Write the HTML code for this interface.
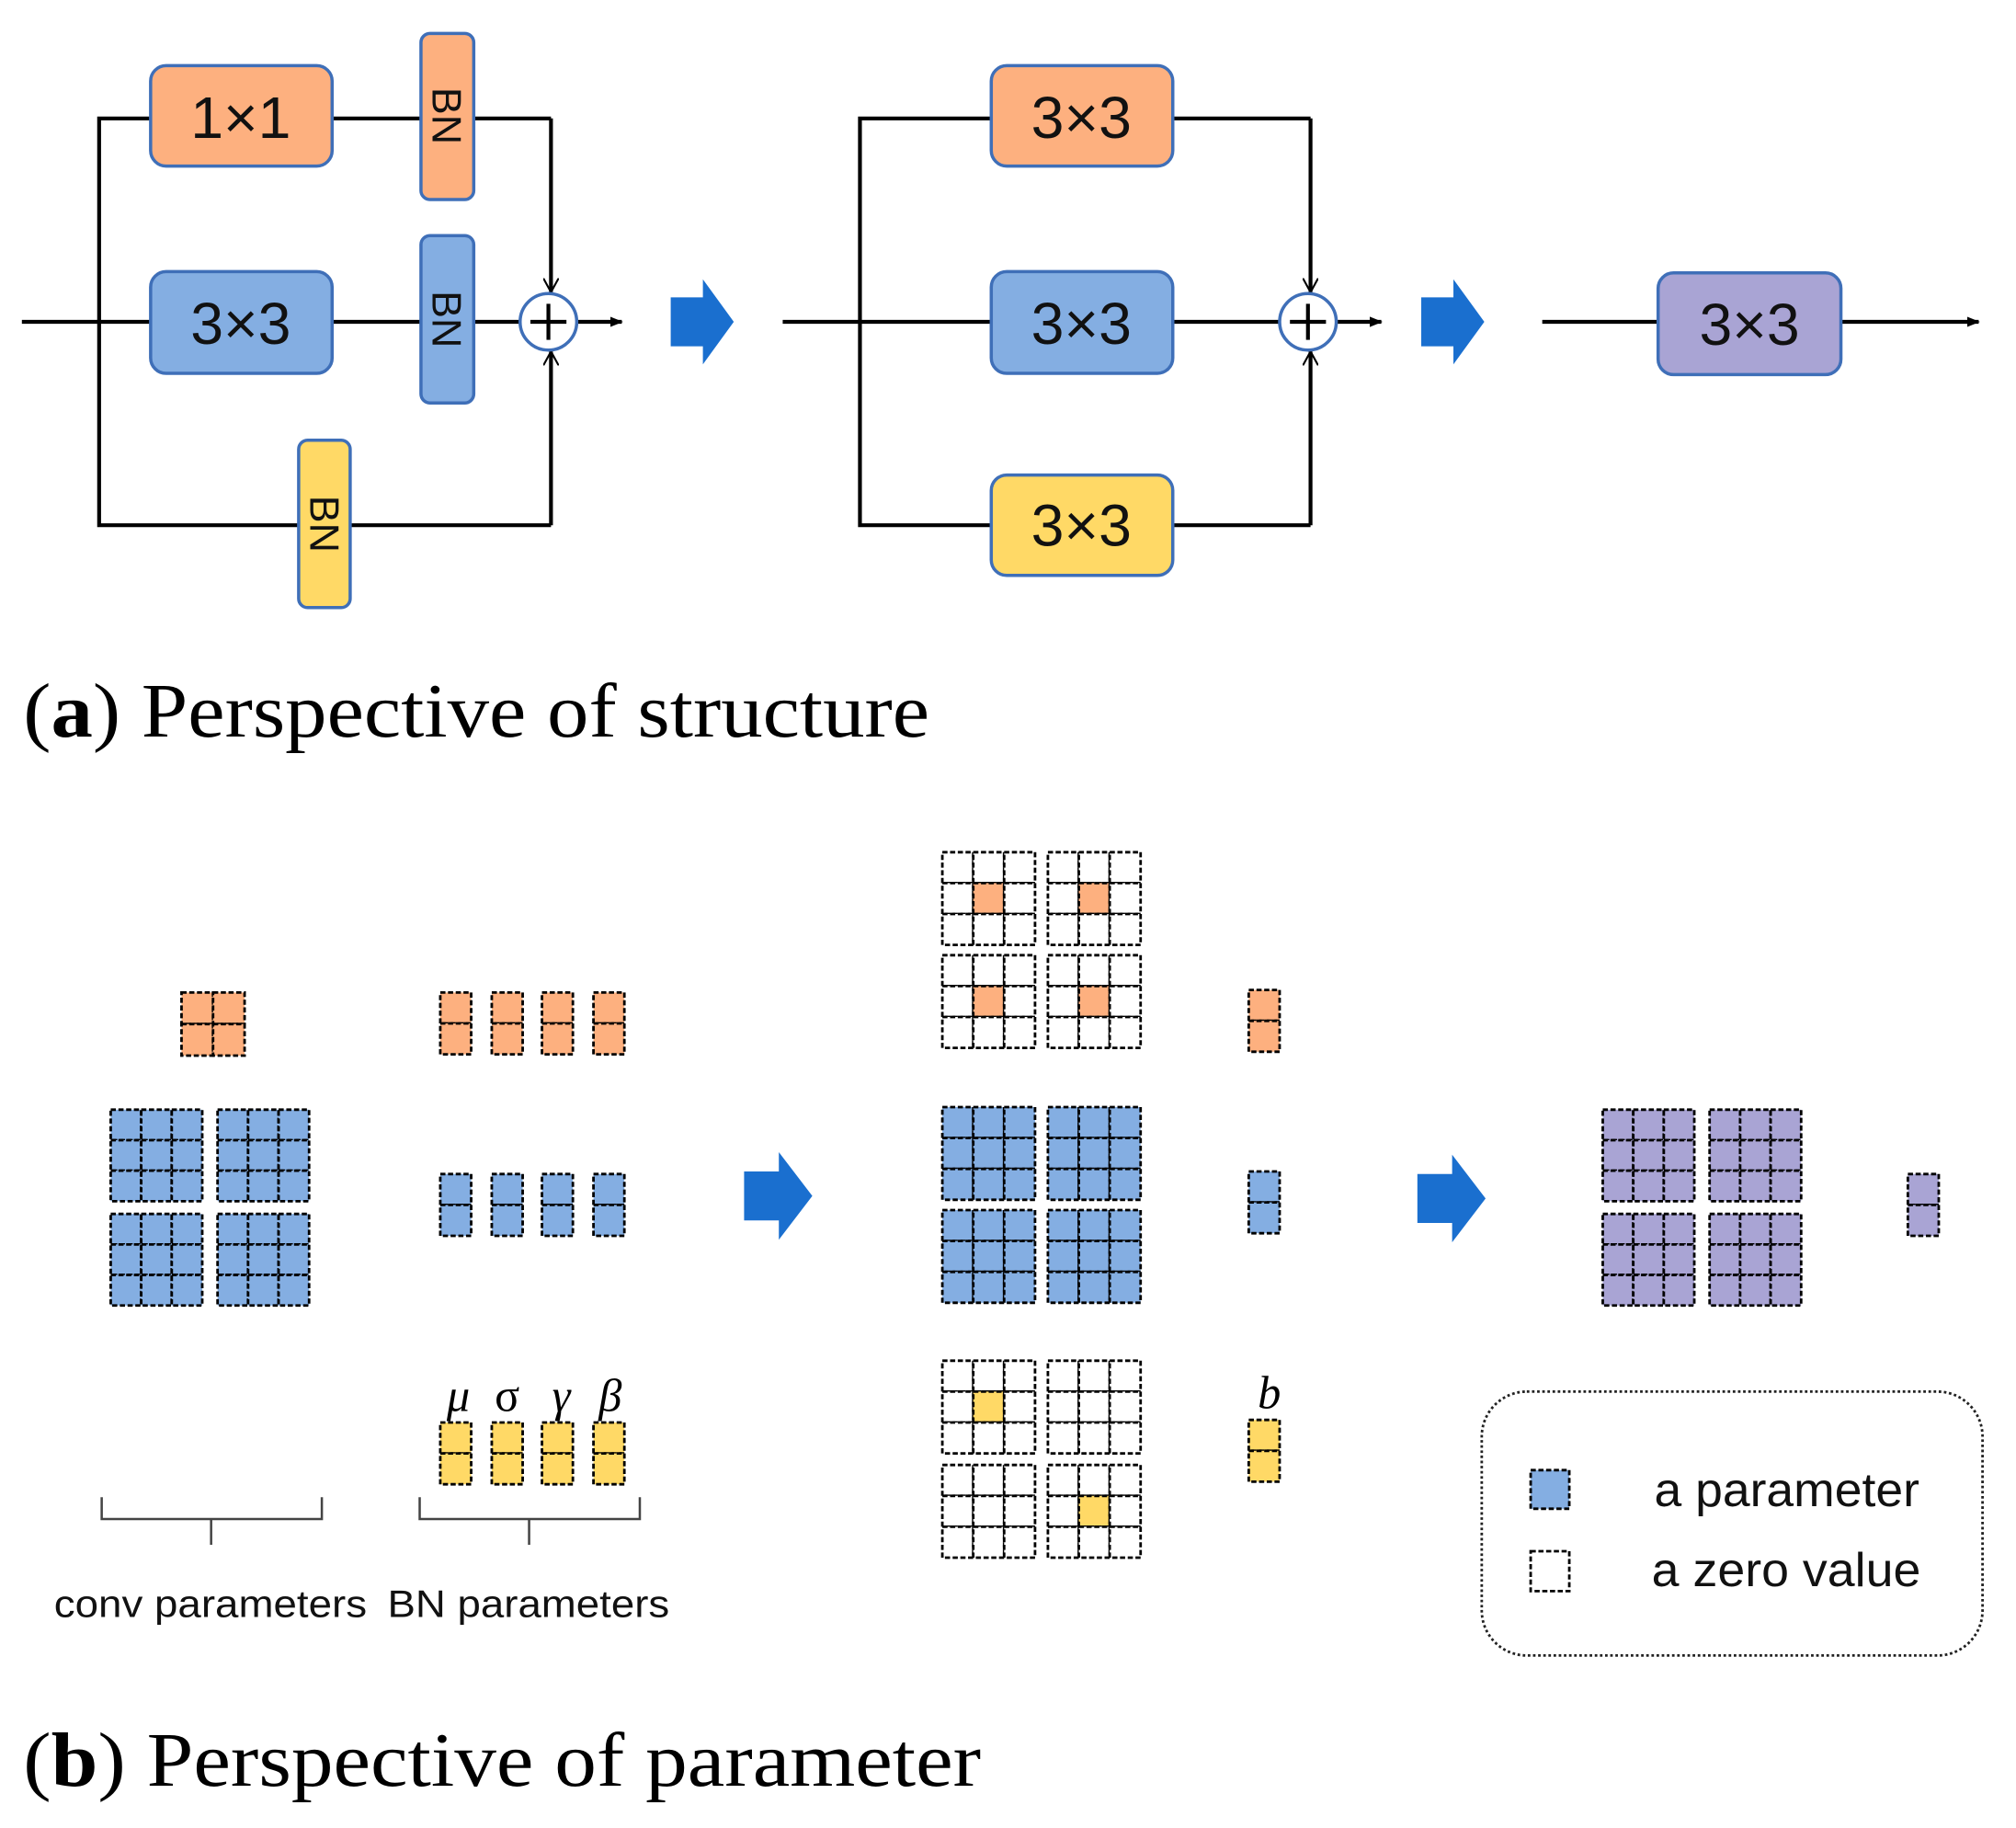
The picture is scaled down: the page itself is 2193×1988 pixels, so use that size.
<!DOCTYPE html>
<html><head><meta charset="utf-8"><style>
html,body{margin:0;padding:0;background:#fff;}
svg{display:block;}
.s{font-family:"Liberation Sans",sans-serif;}
.r{font-family:"Liberation Serif",serif;}
</style></head><body>
<svg id="g" width="2193" height="1988" viewBox="0 0 1566 1420" preserveAspectRatio="none" xmlns="http://www.w3.org/2000/svg">
<defs>
<marker id="ah" markerWidth="10" markerHeight="10" refX="9" refY="5" orient="auto" markerUnits="userSpaceOnUse"><path d="M0,1 L10,5 L0,9 Z" fill="#000"/></marker>
<marker id="av" markerWidth="12" markerHeight="12" refX="11" refY="6" orient="auto" markerUnits="userSpaceOnUse"><path d="M0,0 L11,6 L0,12" fill="none" stroke="#000" stroke-width="1.5"/></marker>
</defs>
<rect width="1566" height="1420" fill="#fff"/>
<g stroke="#000" stroke-width="3" fill="none">
<line x1="17" y1="250" x2="404" y2="250"/>
<polyline points="428,92 77,92 77,408 428,408"/>
<line x1="428" y1="92" x2="428" y2="227" marker-end="url(#av)"/>
<line x1="428" y1="408" x2="428" y2="273" marker-end="url(#av)"/>
<line x1="448" y1="250" x2="483" y2="250" marker-end="url(#ah)"/>
<line x1="608" y1="250" x2="994" y2="250"/>
<polyline points="1018,92 668,92 668,408 1018,408"/>
<line x1="1018" y1="92" x2="1018" y2="227" marker-end="url(#av)"/>
<line x1="1018" y1="408" x2="1018" y2="273" marker-end="url(#av)"/>
<line x1="1038" y1="250" x2="1073" y2="250" marker-end="url(#ah)"/>
<line x1="1198" y1="250" x2="1537" y2="250" marker-end="url(#ah)"/>
</g>
<g stroke="#3f6fb8" stroke-width="2.5">
<rect x="117" y="51" width="141" height="78" rx="12" fill="#FDB07F"/>
<rect x="117" y="211" width="141" height="79" rx="12" fill="#84AEE2"/>
<rect x="327" y="26" width="41" height="129" rx="7" fill="#FDB07F"/>
<rect x="327" y="183" width="41" height="130" rx="7" fill="#84AEE2"/>
<rect x="232" y="342" width="40" height="130" rx="7" fill="#FFD966"/>
<rect x="770" y="51" width="141" height="78" rx="12" fill="#FDB07F"/>
<rect x="770" y="211" width="141" height="79" rx="12" fill="#84AEE2"/>
<rect x="770" y="369" width="141" height="78" rx="12" fill="#FFD966"/>
<rect x="1288" y="212" width="142" height="79" rx="12" fill="#A9A4D4"/>
</g>
<g class="s" font-size="46" text-anchor="middle" fill="#111">
<text x="187" y="107">1×1</text>
<text x="187" y="267">3×3</text>
<text x="840" y="107">3×3</text>
<text x="840" y="267">3×3</text>
<text x="840" y="424">3×3</text>
<text x="1359" y="268">3×3</text>
</g>
<g class="s" font-size="32" text-anchor="middle" fill="#111">
<text transform="translate(336,90) rotate(90)">BN</text>
<text transform="translate(336,248) rotate(90)">BN</text>
<text transform="translate(241,407) rotate(90)">BN</text>
</g>
<g stroke-width="2.5" fill="#fff">
<circle cx="426" cy="250" r="22" stroke="#3f6fb8"/>
<circle cx="1016" cy="250" r="22" stroke="#3f6fb8"/>
</g>
<g stroke="#000" stroke-width="3">
<line x1="412" y1="250" x2="440" y2="250"/><line x1="426" y1="236" x2="426" y2="264"/>
<line x1="1002" y1="250" x2="1030" y2="250"/><line x1="1016" y1="236" x2="1016" y2="264"/>
</g>
<g fill="#1a6fcf">
<path d="M521,231 L546,231 L546,217 L570,250 L546,283 L546,269 L521,269 Z"/>
<path d="M1104,231 L1129,231 L1129,217 L1153,250 L1129,283 L1129,269 L1104,269 Z"/>
<path d="M578,910 L605,910 L605,895 L631,929 L605,963 L605,948 L578,948 Z"/>
<path d="M1101,912 L1128,912 L1128,897 L1154,931 L1128,965 L1128,950 L1101,950 Z"/>
</g>
<text class="r" x="18" y="572" font-size="60" fill="#000" textLength="704" lengthAdjust="spacingAndGlyphs">(<tspan font-weight="bold">a</tspan>) Perspective of structure</text>
<text class="r" x="18" y="1387" font-size="60" fill="#000" textLength="744" lengthAdjust="spacingAndGlyphs">(<tspan font-weight="bold">b</tspan>) Perspective of parameter</text>
<g class="r" font-size="36" font-style="italic" text-anchor="middle" fill="#000">
<text x="356" y="1096">μ</text><text x="394" y="1096" font-style="normal">σ</text><text x="436" y="1096">γ</text><text x="474" y="1096">β</text>
<text x="986" y="1094">b</text>
</g>
<g stroke="#444" stroke-width="1.8" fill="none">
<path d="M79,1163 L79,1180 L250,1180 L250,1163 M164,1180 L164,1200"/>
<path d="M326,1163 L326,1180 L497,1180 L497,1163 M411,1180 L411,1200"/>
</g>
<g class="s" font-size="30" fill="#111">
<text x="42" y="1256" textLength="243" lengthAdjust="spacingAndGlyphs">conv parameters</text>
<text x="301" y="1256" textLength="219" lengthAdjust="spacingAndGlyphs">BN parameters</text>
</g>
<rect x="1151" y="1081" width="389" height="205" rx="35" fill="none" stroke="#222" stroke-width="2" stroke-dasharray="2,2"/>
<g class="s" font-size="37" fill="#111">
<text x="1285" y="1170" textLength="206" lengthAdjust="spacingAndGlyphs">a parameter</text>
<text x="1283" y="1232" textLength="209" lengthAdjust="spacingAndGlyphs">a zero value</text>
</g>
<g id="cells"></g>
</svg>
<script>
var G=document.getElementById('cells'),NS='http://www.w3.org/2000/svg';
function c(x,y,w,h,f){var r=document.createElementNS(NS,'rect');r.setAttribute('x',x);r.setAttribute('y',y);r.setAttribute('width',w);r.setAttribute('height',h);r.setAttribute('fill',f||'#fff');r.setAttribute('stroke','#000');r.setAttribute('stroke-width','2');r.setAttribute('stroke-dasharray','4,2');G.appendChild(r);}
function grid(x,y,n,m,s,f,cf){for(var i=0;i<n;i++)for(var j=0;j<m;j++){var fill=f;if(cf&&i==1&&j==1)fill=cf;c(x+j*s,y+i*s,s,s,fill);}}
var O='#FDB07F',B='#84AEE2',Y='#FFD966',P='#A9A4D4',W='#fff';
grid(141,771,2,2,24.5,O);
[[86,862],[169,862],[86,943],[169,943]].forEach(function(p){grid(p[0],p[1],3,3,23.7,B);});
[342,382,421,461].forEach(function(x){grid(x,771,2,1,24,O);grid(x,912,2,1,24,B);grid(x,1105,2,1,24,Y);});
[[732,662],[814,662],[732,742],[814,742]].forEach(function(p){grid(p[0],p[1],3,3,24,W,O);});
[[732,860],[814,860],[732,940],[814,940]].forEach(function(p){grid(p[0],p[1],3,3,24,B);});
grid(732,1057,3,3,24,W,Y);grid(814,1057,3,3,24,W);grid(732,1138,3,3,24,W);grid(814,1138,3,3,24,W,Y);
grid(970,769,2,1,24,O);grid(970,910,2,1,24,B);grid(970,1103,2,1,24,Y);
[[1245,862],[1328,862],[1245,943],[1328,943]].forEach(function(p){grid(p[0],p[1],3,3,23.7,P);});
grid(1482,912,2,1,24,P);
c(1189,1142,30,30,B);c(1189,1205,30,31,W);
</script>
</body></html>
